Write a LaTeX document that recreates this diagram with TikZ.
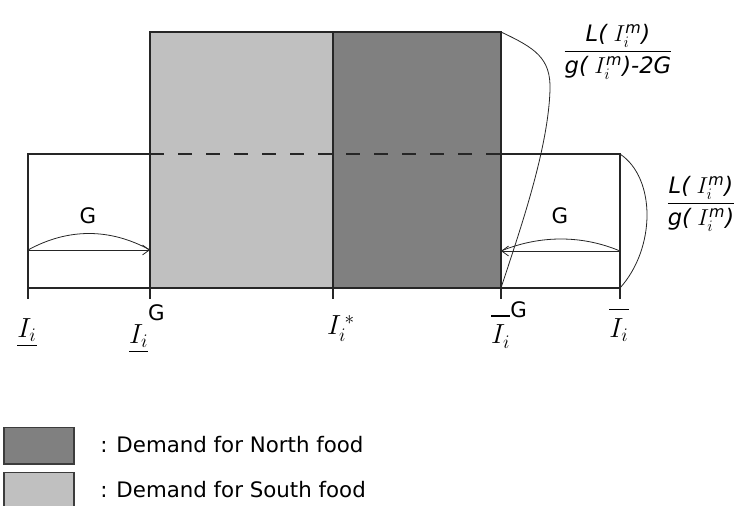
\documentclass[tikz,border=0pt]{standalone}
\usepackage{amsmath}
\usepackage{fontspec}
\setmainfont{DejaVu Sans}
\usetikzlibrary{arrows.meta}
\definecolor{northgray}{RGB}{128,128,128}
\definecolor{southgray}{RGB}{192,192,192}
\definecolor{edgegray}{RGB}{60,60,60}

\begin{document}
\begin{tikzpicture}[
  x=0.75pt, y=-0.75pt,
  font=\fontsize{16}{19}\selectfont,
  block/.style={draw=black!85, line width=0.8pt},
  line/.style={-{Straight Barb[length=1.8mm, width=2.6mm]}, draw=black!85, line width=0.6pt},
  brace/.style={draw=black!85, line width=0.6pt},
  axis/.style={inner sep=0pt, font=\fontsize{21}{24}\selectfont},
  frac/.style={inner sep=0pt, font=\fontsize{17}{20}\selectfont},
  key/.style={draw=edgegray, line width=1pt, minimum width=52.5pt, minimum height=27.5pt, inner sep=0pt},
]
\useasboundingbox (0,0) rectangle (742,506);

\coordinate (lo) at (28,288);
\coordinate (lg) at (150,288);
\coordinate (st) at (333,288);
\coordinate (hg) at (501,288);
\coordinate (hi) at (620,288);
\coordinate (top) at (501,32);

\draw[block] (lo) rectangle (620,154);
\draw[block, fill=southgray] (lg) rectangle (333,32);
\draw[block, fill=northgray] (st) rectangle (top);
\draw[block, dash pattern=on 10.5pt off 10.5pt] (150,154) -- (501,154);

\draw[block] (lo) -- ++(0,11);
\draw[block] (lg) -- ++(0,11);
\draw[block] (st) -- ++(0,11);
\draw[block] (hg) -- ++(0,11);
\draw[block] (hi) -- ++(0,11);

\coordinate (la) at (28,250);
\coordinate (lb) at (150,250);
\coordinate (ra) at (620,251);
\coordinate (rb) at (501,251);
\draw[line] (la) -- (lb);
\draw[line] (ra) -- (rb);
\draw[brace] (la) .. controls (68,228) and (110,228) .. (lb);
\draw[brace] (ra) .. controls (582,235) and (540,235) .. (rb);
\node (gl) at (88,216) {G};
\node (gr) at (560,216) {G};

\draw[brace] (hi |- 0,154) .. controls (656,178) and (656,248) .. (hi);
\draw[brace] (top) .. controls (535,48) and (551,58) .. (550,90)
  .. controls (548,150) and (520,230) .. (hg);

\node[frac] (wide) at (618,52) {$\displaystyle\frac{\textit{L(}\;I_i^{\textit{m}}\textit{)}}{\textit{g(}\;I_i^{\textit{m}}\textit{)-2G}}$};
\node[frac] (narrow) at (701,204) {$\displaystyle\frac{\textit{L(}\;I_i^{\textit{m}}\textit{)}}{\textit{g(}\;I_i^{\textit{m}}\textit{)}}$};

\node[axis] (tlo) at (27,333) {$\underline{I_i}$};
\node[axis] (tlg) at (147,329) {$\underline{I_i}$\raisebox{1.5ex}{\fontsize{16}{16}\selectfont G}};
\node[axis] (tst) at (341,329) {$I_i^{\,*}$};
\node[axis] (thg) at (509,325) {$\overline{\rule{0pt}{18pt}I_i}$\raisebox{1.7ex}{\fontsize{16}{16}\selectfont G}};
\node[axis] (thi) at (619,325) {$\overline{\rule{0pt}{18pt}I_i}$};

\node[key, fill=northgray] (kn) at (39,445.5) {};
\node[key, fill=southgray] (ks) at (39,490.5) {};
\node[anchor=west, inner sep=0pt] (tn) at (100,445) {: Demand for North food};
\node[anchor=west, inner sep=0pt] (ts) at (100,490) {: Demand for South food};
\end{tikzpicture}
\end{document}
